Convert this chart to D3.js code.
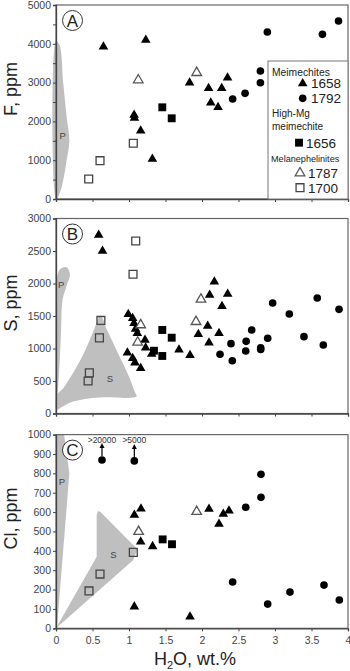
<!DOCTYPE html>
<html><head><meta charset="utf-8">
<script src="https://cdn.jsdelivr.net/npm/d3@7/dist/d3.min.js"></script>
<style>
body{margin:0;background:#fff;}
svg{display:block;font-family:"Liberation Sans",Arial,sans-serif;}
</style></head>
<body>
<svg id="chart" width="350" height="671"></svg>
<script>
// ---------------- DATA ----------------
const xTicks = [0, 0.5, 1, 1.5, 2, 2.5, 3, 3.5, 4];
const xTickLabels = ["0", "0.5", "1", "1.5", "2", "2.5", "3", "3.5", "4"];
const panelLetters = ["A", "B", "C"];
const yLabels = ["F, ppm", "S, ppm", "Cl, ppm"];
const yTicksA = [0, 500, 1000, 1500, 2000, 2500, 3000, 3500, 4000, 4500, 5000];
const yTickLabelsA = ["0", "", "1000", "", "2000", "", "3000", "", "4000", "", "5000"];
const yTicksB = [0, 500, 1000, 1500, 2000, 2500, 3000];
const yTickLabelsB = ["0", "500", "1000", "1500", "2000", "2500", "3000"];
const yTicksC = [0, 100, 200, 300, 400, 500, 600, 700, 800, 900, 1000];
const yTickLabelsC = ["0", "100", "200", "300", "400", "500", "600", "700", "800", "900", "1000"];

// Panel A: F (ppm) vs H2O (wt.%)
const fMeim1658 = [[0.65,3925],[1.23,4098],[1.07,2165],[1.075,2088],[1.16,1760],[1.32,1031],[1.83,2998],[2.09,2853],[2.27,2853],[2.35,3126],[2.12,2482],[2.22,2363]];
const fMeim1792 = [[2.42,2577],[2.59,2724],[2.80,3299],[2.80,2997],[2.895,4304],[3.65,4244],[3.87,4588]];
const fHighMg1656 = [[1.456,2363],[1.585,2080]];
const fMel1787 = [[1.127,3067],[1.927,3255]];
const fMel1700 = [[0.448,515],[0.603,987],[1.059,1436]];
const fFieldP = [[0,4080],[0.05,3960],[0.1,2970],[0.146,2115],[0.183,1515],[0.146,1000],[0.078,317],[0.018,17],[0,0]];

// Panel B: S (ppm)
const sMeim1658 = [[0.585,2746],[0.637,2500],[0.99,1526],[1.05,1465],[1.068,1388],[1.09,1300],[1.114,1234],[1.219,1131],[1.228,1012],[1.311,915],[0.978,935],[1.05,849],[1.082,782],[1.16,695],[1.685,980],[1.836,895],[2.078,1346],[1.95,1218],[2.233,1234],[2.096,1089],[2.274,1650],[2.169,2028],[2.105,1823],[2.352,1838]];
const sMeim1792 = [[2.247,911],[2.397,1074],[2.415,812],[2.605,1110],[2.599,962],[2.681,1285],[2.804,1012],[2.804,985],[2.9,1157],[2.968,1700],[3.196,1531],[3.397,1182],[3.579,1777],[3.662,1054],[3.877,1603]];
const sHighMg1656 = [[1.456,1285],[1.585,1166],[1.342,966],[1.456,885]];
const sMel1787 = [[1.16,1362],[1.119,1095],[1.918,1412],[1.986,1757]];
const sMel1700 = [[1.092,2654],[1.055,2142],[0.615,1432],[0.595,1163],[0.457,625],[0.44,500]];
const sFieldP = [[0.012,230],[0.015,1800],[0.02,2130],[0.06,2225],[0.146,2250],[0.19,2140],[0.15,1980],[0.09,1750],[0.07,1300],[0.055,900],[0.035,500],[0.02,280]];
const sFieldS = [[0.01,60],[0.01,280],[0.1,390],[0.2,560],[0.37,900],[0.51,1260],[0.57,1440],[0.6,1500],[0.64,1460],[0.67,1360],[0.84,950],[1.01,540],[1.08,330],[1.105,265],[1.0,240],[0.8,248],[0.6,245],[0.4,222],[0.2,170],[0.08,100]];

// Panel C: Cl (ppm)
const clMeim1658 = [[1.164,617],[1.073,585],[1.16,447],[1.323,423],[1.073,112],[1.836,60],[2.096,616],[2.233,538],[2.292,590],[2.37,607]];
const clMeim1792 = [[0.63,869],[1.073,864],[2.599,625],[2.808,676],[2.808,795],[2.42,239],[2.9,125],[3.205,187],[3.671,223],[3.881,146]];
const clHighMg1656 = [[1.461,459],[1.589,434]];
const clMel1787 = [[1.132,499],[1.927,602]];
const clMel1700 = [[0.452,193],[0.603,280],[1.059,392]];
const clFieldP = [[0,0],[0,1000],[0.11,1000],[0.183,800],[0.015,10]];
const clFieldS = [[0,0],[0.557,370],[0.557,585],[0.575,606],[0.61,600],[1.114,408],[1.059,353]];
const clOffscale = [[0.63,869,">20000"],[1.073,864,">5000"]];

const legendGroups = ["Meimechites", "High-Mg\nmeimechite", "Melanephelinites"];
const legendSamples = ["1658", "1792", "1656", "1787", "1700"];

// ---------------- DRAWING ----------------
const svg = d3.select("#chart");
const x = d3.scaleLinear().domain([0, 4]).range([56, 348]);
const panels = [
  {y: d3.scaleLinear().domain([0,5000]).range([199,5]), ticks: yTicksA, labels: yTickLabelsA, curved: true,
   series: [fMeim1658, fMeim1792, fHighMg1656, fMel1787, fMel1700], fields: [[fFieldP,"P",0.09,1620]]},
  {y: d3.scaleLinear().domain([0,3000]).range([413.5,218.5]), ticks: yTicksB, labels: yTickLabelsB, curved: true,
   series: [sMeim1658, sMeim1792, sHighMg1656, sMel1787, sMel1700], fields: [[sFieldP,"P",0.07,1977],[sFieldS,"S",0.74,540]]},
  {y: d3.scaleLinear().domain([0,1000]).range([628.3,434.6]), ticks: yTicksC, labels: yTickLabelsC, curved: false,
   series: [clMeim1658, clMeim1792, clHighMg1656, clMel1787, clMel1700], fields: [[clFieldP,"P",0.08,757],[clFieldS,"S",0.785,382]]}
];

const symTypes = [d3.symbolTriangle, d3.symbolCircle, d3.symbolSquare, d3.symbolTriangle, d3.symbolSquare];
const symSizes = [40, 46, 62, 40, 62];
const symFill = ["#000", "#000", "#000", "#fff", "none"];
const symStroke = ["none", "none", "none", "#555", "#444"];

function drawSym(g, i, cx, cy) {
  g.append("path")
    .attr("d", d3.symbol().type(symTypes[i]).size(symSizes[i])())
    .attr("transform", `translate(${cx},${cy})`)
    .attr("fill", symFill[i])
    .attr("stroke", symStroke[i])
    .attr("stroke-width", 1.3);
}

panels.forEach((p, pi) => {
  const g = svg.append("g");
  const y = p.y;
  const [yb, yt] = y.range();
  // fields
  p.fields.forEach(([pts, lab, lx, ly]) => {
    const crv = p.curved ? d3.curveCatmullRomClosed.alpha(0.5) : d3.curveLinearClosed;
    g.append("path")
      .attr("d", d3.line().x(d => x(d[0])).y(d => y(d[1])).curve(crv)(pts))
      .attr("fill", "#bfbfbf");
    g.append("text").attr("x", x(lx)).attr("y", y(ly)).attr("dy", "0.35em")
      .attr("text-anchor", "middle").attr("font-size", 9.5).attr("fill", "#444").text(lab);
  });
  // frame
  g.append("rect").attr("x", 56).attr("y", yt).attr("width", 292).attr("height", yb - yt)
    .attr("fill", "none").attr("stroke", "#666").attr("stroke-width", 1.2);
  // y axis
  const ya = d3.axisLeft(y).tickValues(p.ticks).tickSize(3).tickPadding(2)
    .tickFormat((d, i) => p.labels[i]);
  const yg = g.append("g").attr("transform", "translate(56,0)").call(ya);
  yg.select(".domain").attr("stroke", "#444").attr("stroke-width", 1.3);
  yg.selectAll(".tick line").attr("stroke", "#444");
  yg.selectAll(".tick text").attr("font-size", 10.5).attr("fill", "#444")
    .attr("font-family", "Liberation Sans, Arial, sans-serif");
  // x axis
  const xa = d3.axisBottom(x).tickValues(xTicks).tickSize(3).tickPadding(5)
    .tickFormat((d, i) => pi === 2 ? xTickLabels[i] : "");
  const xg = g.append("g").attr("transform", `translate(0,${yb})`).call(xa);
  xg.select(".domain").attr("stroke", "#444").attr("stroke-width", 1.3);
  xg.selectAll(".tick line").attr("stroke", "#444");
  xg.selectAll(".tick text").attr("font-size", 10.5).attr("fill", "#444")
    .attr("font-family", "Liberation Sans, Arial, sans-serif");
  // y label
  g.append("text").attr("transform", `translate(17,${(yb + yt) / 2 - 13}) rotate(-90)`)
    .attr("text-anchor", "middle").attr("font-size", 18).attr("fill", "#222").text(yLabels[pi]);
  // panel letter
  g.append("circle").attr("cx", 72.5).attr("cy", yt + 15.5).attr("r", 10)
    .attr("fill", "#fff").attr("stroke", "#333").attr("stroke-width", 1);
  g.append("text").attr("x", 72.5).attr("y", yt + 15.5).attr("dy", "0.36em")
    .attr("text-anchor", "middle").attr("font-size", 17).attr("fill", "#222").text(panelLetters[pi]);
  // points (order: open squares, filled squares, filled circles, triangles, open triangles)
  [4, 2, 1, 0, 3].forEach(si => {
    p.series[si].forEach(d => drawSym(g, si, x(d[0]), y(d[1])));
  });
  // off-scale arrows in C
  if (pi === 2) {
    clOffscale.forEach(d => {
      const cx = x(d[0]), cy = y(d[1]);
      g.append("line").attr("x1", cx).attr("x2", cx).attr("y1", cy - 4).attr("y2", cy - 13)
        .attr("stroke", "#000").attr("stroke-width", 1.2);
      g.append("path").attr("d", `M${cx},${cy - 17}L${cx - 2.5},${cy - 12}L${cx + 2.5},${cy - 12}Z`).attr("fill", "#000");
      g.append("text").attr("x", cx).attr("y", 443).attr("text-anchor", "middle")
        .attr("font-size", 8.5).attr("fill", "#333").text(d[2]);
    });
  }
});

// x label
const xl = svg.append("text").attr("x", 195).attr("y", 665).attr("text-anchor", "middle")
  .attr("font-size", 18).attr("fill", "#222");
xl.append("tspan").text("H");
xl.append("tspan").attr("font-size", 11).attr("dy", 4).text("2");
xl.append("tspan").attr("dy", -4).text("O, wt.%");

// legend
const lg = svg.append("g");
lg.append("rect").attr("x", 268).attr("y", 61).attr("width", 80).attr("height", 138)
  .attr("fill", "#fff").attr("stroke", "#777").attr("stroke-width", 1);
const lt = (tx, ty, s, fs) => lg.append("text").attr("x", tx).attr("y", ty)
  .attr("font-size", fs).attr("fill", "#222").text(s);
lt(272, 76, legendGroups[0], 10.3);
drawSym(lg, 0, 302.7, 83.5); lt(311, 88, legendSamples[0], 13.5);
drawSym(lg, 1, 302.7, 98.3); lt(311, 103, legendSamples[1], 13.5);
const hm = legendGroups[1].split("\n");
lt(272, 117, hm[0], 10); lt(272, 130, hm[1], 10);
drawSym(lg, 2, 299, 142.7); lt(306, 148, legendSamples[2], 13.5);
lt(271, 162, legendGroups[2], 9.1);
drawSym(lg, 3, 300, 173); lt(308, 178, legendSamples[3], 13.5);
drawSym(lg, 4, 300, 187.7); lt(308, 193, legendSamples[4], 13.5);
</script>
</body></html>
